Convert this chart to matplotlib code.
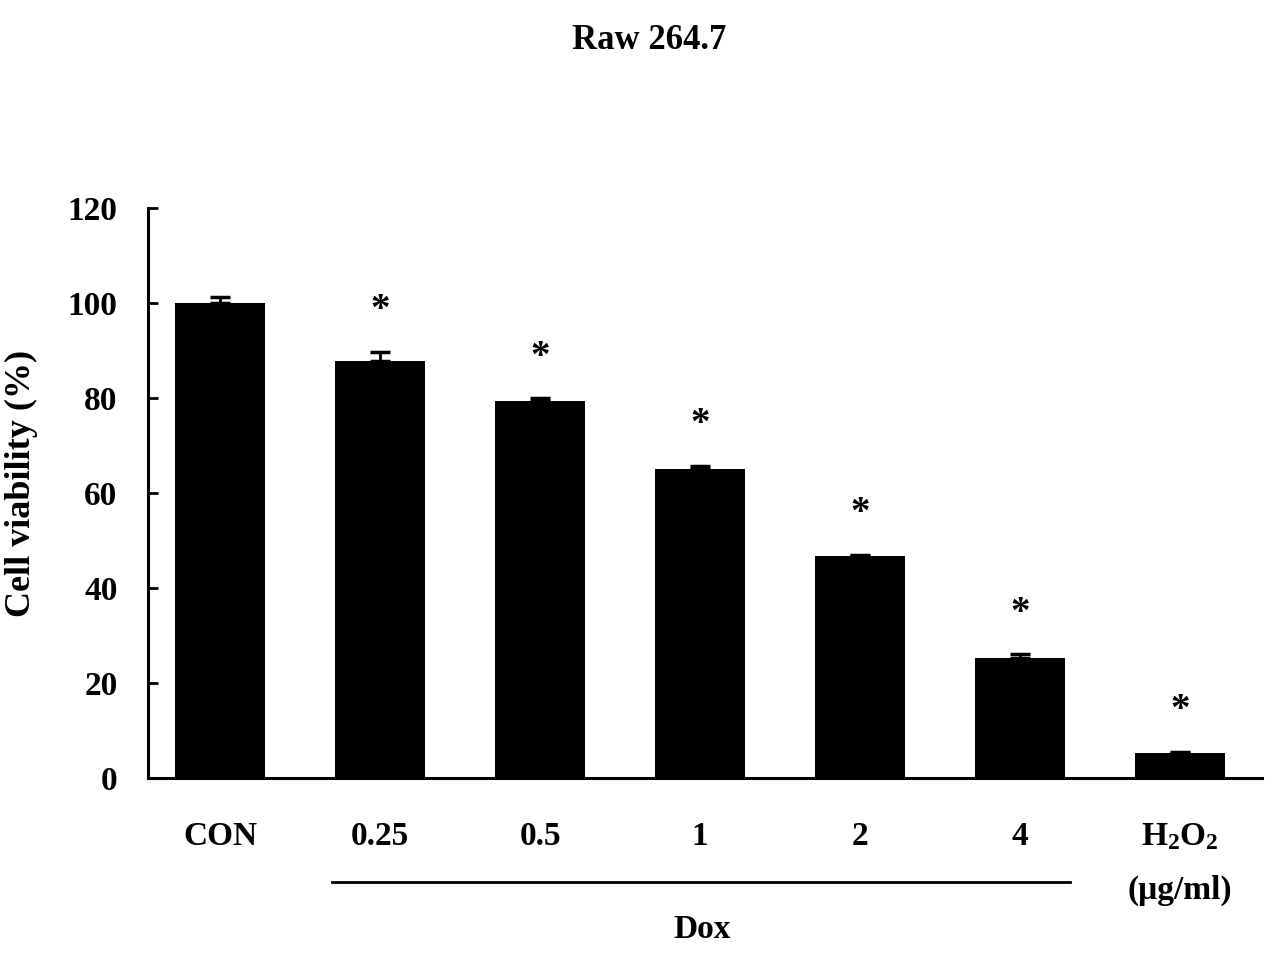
import matplotlib
matplotlib.use("Agg")
import matplotlib.pyplot as plt
import numpy as np

plt.rcParams['font.family'] = ['Liberation Serif', 'DejaVu Serif']
plt.rcParams['font.weight'] = 'bold'
plt.rcParams['mathtext.fontset'] = 'custom'
plt.rcParams['mathtext.bf'] = 'Liberation Serif:bold'
plt.rcParams['mathtext.rm'] = 'Liberation Serif:bold'

categories = ['CON', '0.25', '0.5', '1', '2', '4', r'$\mathbf{H_2O_2}$']
viability = [100.0, 87.8, 79.4, 65.0, 46.7, 25.2, 5.2]
errors = [1.3, 1.8, 0.5, 0.7, 0.3, 0.8, 0.3]
significant = [False, True, True, True, True, True, True]
yticks = [0, 20, 40, 60, 80, 100, 120]

fig = plt.figure(figsize=(12.85, 9.58), dpi=100)
ax = fig.add_axes([0.1152, 0.1879, 0.8668, 0.595])

x = np.arange(len(categories))
ax.bar(x, viability, width=0.5625, color='black', zorder=2)
ax.errorbar(x, viability, yerr=[np.zeros(len(errors)), errors], fmt='none',
            ecolor='black', elinewidth=2, capsize=7, capthick=2.5, zorder=3)

for xi, v, e, s in zip(x, viability, errors, significant):
    if s:
        ax.annotate('*', xy=(xi, v + e), xytext=(0, 23), textcoords='offset points',
                    ha='center', va='baseline', fontsize=28, fontweight='bold')

ax.set_xlim(-0.45, 6.51)
ax.set_ylim(0, 120)
ax.set_yticks(yticks)
ax.set_yticklabels([str(t) for t in yticks])
ax.set_xticks(x)
ax.set_xticklabels(categories)

for side in ['top', 'right']:
    ax.spines[side].set_visible(False)
ax.spines['left'].set_linewidth(2.2)
ax.spines['bottom'].set_linewidth(2.2)

ax.tick_params(axis='y', direction='in', length=7, width=2, pad=22, labelsize=24)
ax.tick_params(axis='x', length=0, pad=31, labelsize=24)

ax.set_ylabel('Cell viability (%)', fontsize=26, fontweight='bold')
ax.yaxis.set_label_coords(-0.0985, 0.517)

fig.text(0.505, 0.958, 'Raw 264.7', ha='center', va='center', fontsize=25, fontweight='bold')

# Dox bracket line
fig.add_artist(plt.Line2D([332 / 1285, 1070 / 1285], [1 - 882 / 958, 1 - 882 / 958],
                          color='black', linewidth=2))
fig.text(702 / 1285, 1 - 930 / 958, 'Dox', ha='center', va='center', fontsize=24, fontweight='bold')
fig.text(1180 / 1285, 1 - 890 / 958, '(μg/ml)', ha='center', va='center', fontsize=24, fontweight='bold')

fig.savefig('out.png', dpi=100)
